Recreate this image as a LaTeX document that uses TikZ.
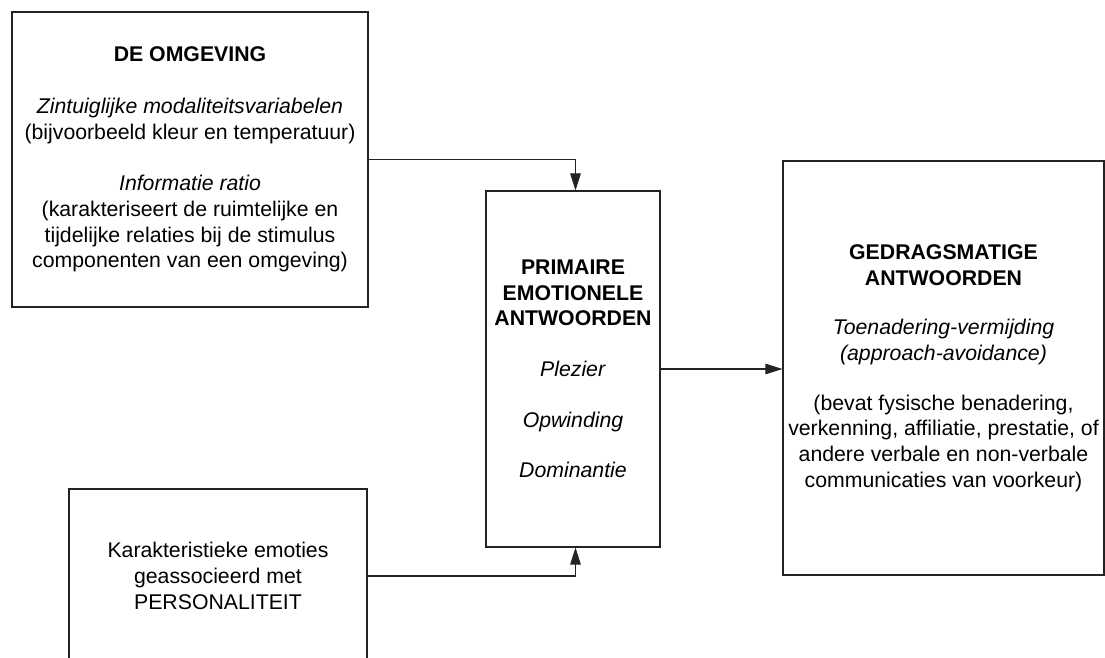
\documentclass[tikz,border=0pt]{standalone}
\usepackage{fontspec}
\setmainfont{Liberation Sans}
\usepackage{tikz}
\usetikzlibrary{arrows.meta,positioning}
\definecolor{lijn}{RGB}{35,35,35}

\begin{document}
\begin{tikzpicture}[
  blok/.style={draw=lijn,line width=0.6pt,align=center,inner sep=0pt,
    font=\fontsize{12.1}{14.6}\selectfont},
  pijl/.style={draw=lijn,line width=0.6pt,-{Triangle[length=0.34cm,width=0.21cm]}}
]
  \useasboundingbox (0,0) rectangle (22.1,13.16);
  % environment
  \node[blok,minimum width=7.12cm,minimum height=5.9cm] (omgeving) at (3.8,9.97)
    {\textbf{DE OMGEVING}\\[0.52cm]
     \textit{Zintuiglijke modaliteitsvariabelen}\\
     (bijvoorbeeld kleur en temperatuur)\\[0.52cm]
     \textit{Informatie ratio}\\
     (karakteriseert de ruimtelijke en\\
     tijdelijke relaties bij de stimulus\\
     componenten van een omgeving)};
  % personality
  \node[blok,minimum width=5.96cm,minimum height=3.48cm] (persoonlijkheid) at (4.36,1.64)
    {Karakteristieke emoties\\ geassocieerd met\\ PERSONALITEIT};
  % primary emotions
  \node[blok,minimum width=3.48cm,minimum height=7.12cm] (emoties) at (11.46,5.78)
    {\textbf{PRIMAIRE}\\ \textbf{EMOTIONELE}\\ \textbf{ANTWOORDEN}\\[0.5cm]
     \textit{Plezier}\\[0.5cm] \textit{Opwinding}\\[0.5cm] \textit{Dominantie}};
  % behaviour
  \node[blok,minimum width=6.42cm,minimum height=8.28cm] (gedrag) at (18.87,5.8)
    {\textbf{GEDRAGSMATIGE}\\ \textbf{ANTWOORDEN}\\[0.48cm]
     \textit{Toenadering-vermijding}\\ \textit{(approach-avoidance)}\\[0.48cm]
     (bevat fysische benadering,\\ verkenning, affiliatie, prestatie, of\\
     andere verbale en non-verbale\\ communicaties van voorkeur)};
  % connectors
  \draw[pijl] (omgeving.east) -| ([xshift=0.05cm]emoties.north);
  \draw[pijl] (persoonlijkheid.east) -| ([xshift=0.05cm]emoties.south);
  \draw[pijl] (emoties.east) -- (emoties.east -| gedrag.west);
\end{tikzpicture}
\end{document}
